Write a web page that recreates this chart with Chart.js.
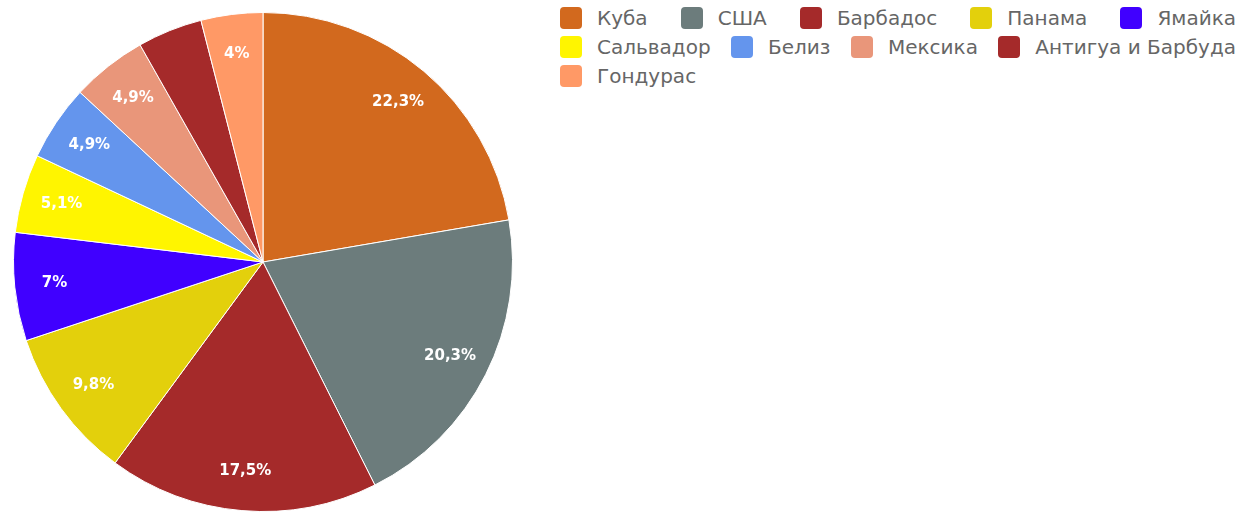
<!DOCTYPE html>
<html>
<head>
<meta charset="utf-8">
<script src="https://cdn.jsdelivr.net/npm/chart.js@4"></script>
<style>
  body { margin: 0; background: #fff; overflow: hidden; }
  #wrap { position: relative; width: 1241px; height: 512px; overflow: hidden; }
  #pie { position: absolute; left: 0; top: 0; }
  #legend {
    position: absolute; left: 560px; top: 3px; width: 676px;
    display: flex; flex-wrap: wrap; justify-content: space-between; column-gap: 12px;
    font-family: "DejaVu Sans", sans-serif;
    font-size: 20px; color: #666;
  }
  .item { display: flex; align-items: center; height: 29px; }
  .box { width: 22px; height: 22px; border-radius: 4px; margin-right: 15px; }
</style>
</head>
<body>
<div id="wrap">
  <canvas id="pie" width="530" height="512"></canvas>
  <div id="legend"></div>
</div>
<script>
const countries = ['Куба', 'США', 'Барбадос', 'Панама', 'Ямайка', 'Сальвадор', 'Белиз', 'Мексика', 'Антигуа и Барбуда', 'Гондурас'];
const shares = [22.3, 20.3, 17.5, 9.8, 7, 5.1, 4.9, 4.9, 4.2, 4];
const colors = ['#d2691e', '#6c7c7c', '#a52a2a', '#e3d00c', '#4000ff', '#fff500', '#6495ed', '#e9967a', '#a52a2a', '#ff9966'];
const hiddenLabels = ['Антигуа и Барбуда']; // no value text on this slice in the original

const fmt = v => String(v).replace('.', ',') + '%';

// draws the percentage inside each slice
const sliceLabels = {
  id: 'sliceLabels',
  afterDatasetsDraw(chart) {
    const ctx = chart.ctx;
    const meta = chart.getDatasetMeta(0);
    ctx.save();
    ctx.fillStyle = '#fff';
    ctx.font = 'bold 15px "DejaVu Sans", sans-serif';
    ctx.textAlign = 'center';
    ctx.textBaseline = 'middle';
    meta.data.forEach((arc, i) => {
      if (hiddenLabels.includes(countries[i])) return;
      const p = arc.getProps(['x', 'y', 'startAngle', 'endAngle', 'outerRadius'], true);
      const mid = (p.startAngle + p.endAngle) / 2;
      const r = p.outerRadius * 0.84;
      ctx.fillText(fmt(shares[i]), p.x + Math.cos(mid) * r, p.y + Math.sin(mid) * r);
    });
    ctx.restore();
  }
};

const chart = new Chart(document.getElementById('pie'), {
  type: 'pie',
  data: {
    labels: countries,
    datasets: [{
      data: shares,
      backgroundColor: colors,
      borderColor: '#fff',
      borderWidth: 1,
    }],
  },
  options: {
    responsive: false,
    animation: false,
    layout: { padding: { top: 12, bottom: 0, left: 0, right: 4 } },
    plugins: {
      legend: { display: false },
      tooltip: { enabled: false },
    },
  },
  plugins: [sliceLabels],
});

// html legend, laid out in rows like the original
const legend = document.getElementById('legend');
countries.forEach((name, i) => {
  const item = document.createElement('div');
  item.className = 'item';
  item.innerHTML = '<span class="box" style="background:' + colors[i] + '"></span><span>' + name + '</span>';
  legend.appendChild(item);
});
</script>
</body>
</html>
